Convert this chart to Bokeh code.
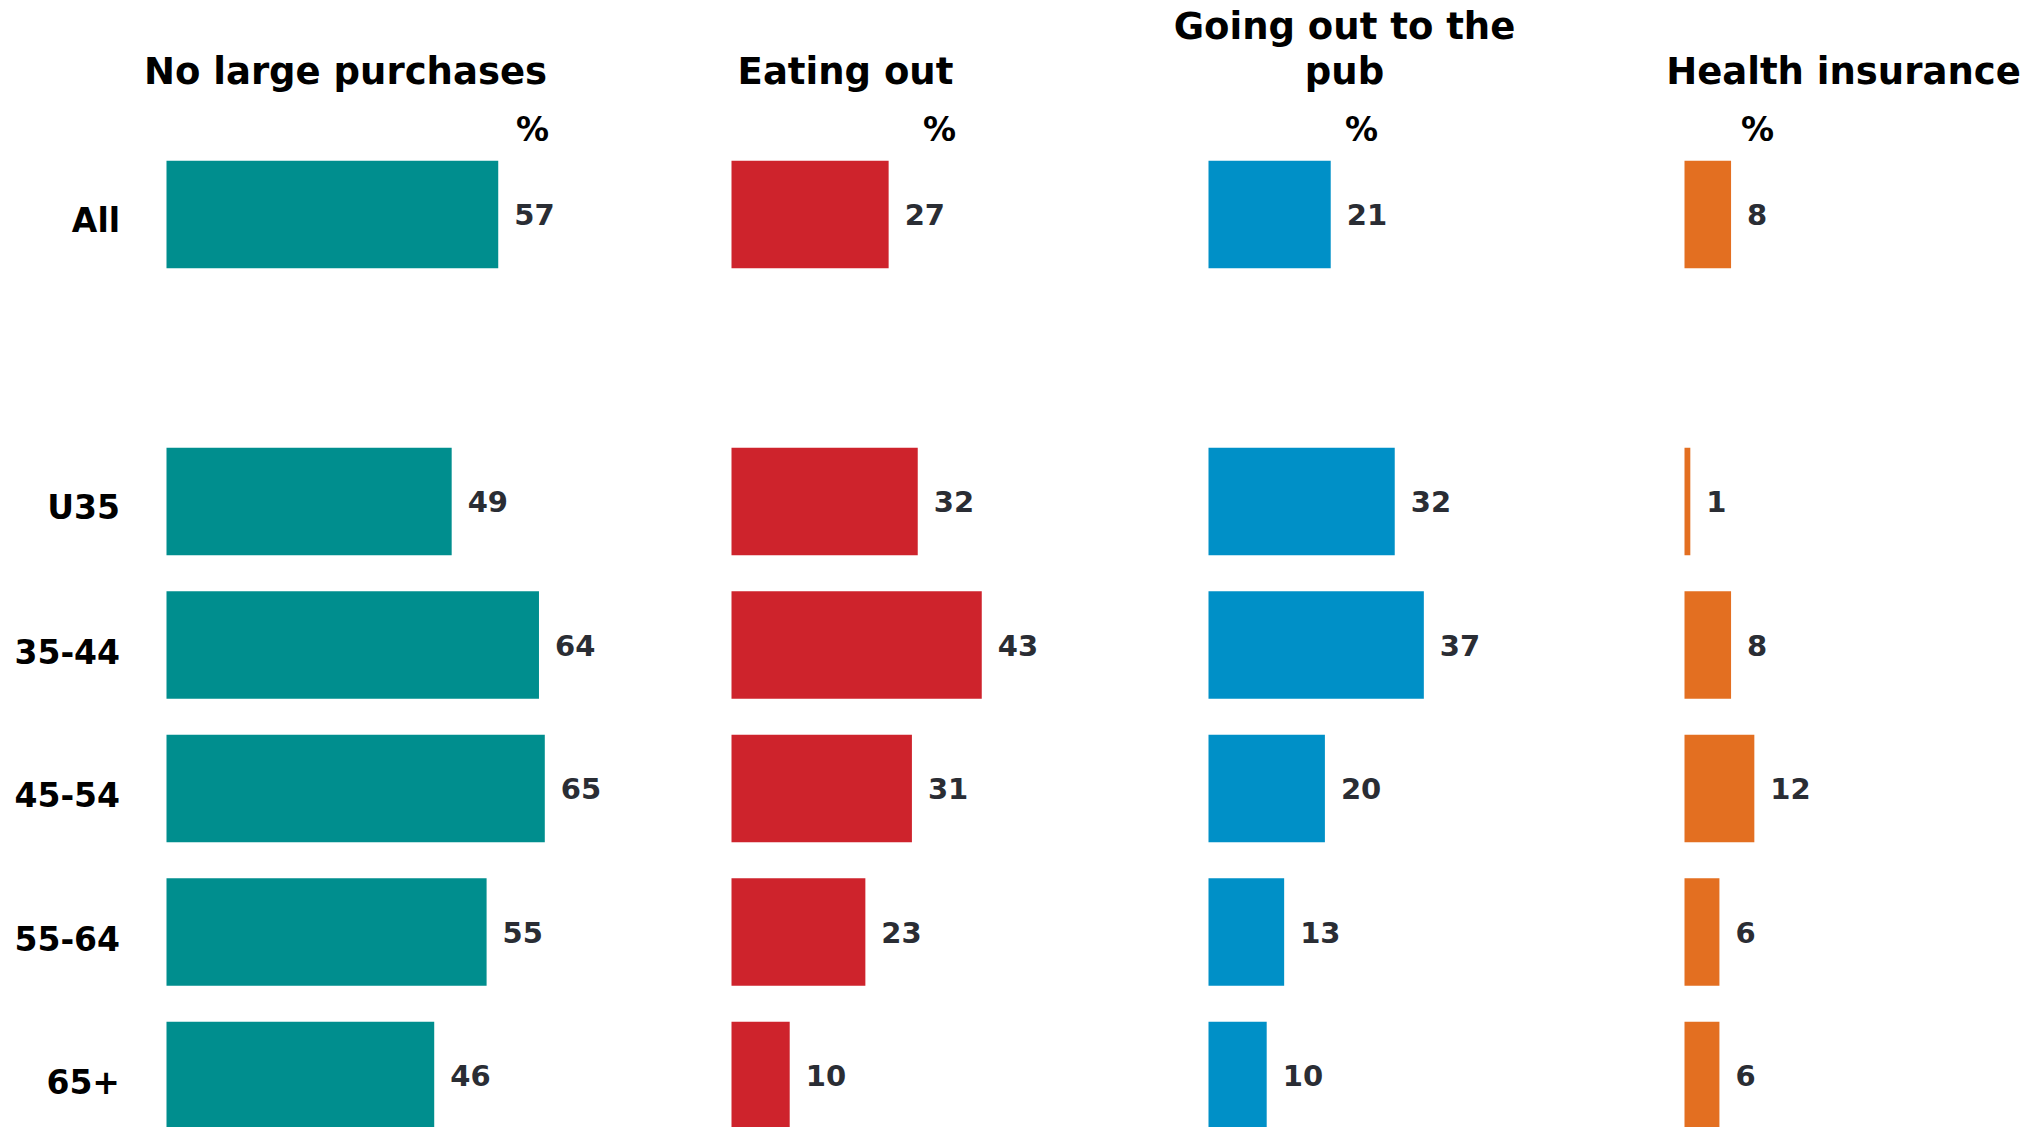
from bokeh.plotting import figure
from bokeh.layouts import row
from bokeh.models import Range1d, ColumnDataSource
from bokeh.core.properties import value
from bokeh.embed import file_html
from bokeh.resources import INLINE

# ---------------- data ----------------
rows = ["All", "", "U35", "35-44", "45-54", "55-64", "65+"]   # "" = spacer row
groups = ["All", "U35", "35-44", "45-54", "55-64", "65+"]
titles = ["No large purchases", "Eating out", "Going out to the\npub", "Health insurance"]
no_large_purchases = [57, 49, 64, 65, 55, 46]
eating_out = [27, 32, 43, 31, 23, 10]
going_out_to_pub = [21, 32, 37, 20, 13, 10]
health_insurance = [8, 1, 8, 12, 6, 6]
series = [no_large_purchases, eating_out, going_out_to_pub, health_insurance]
colors = ["#008E8E", "#CE232C", "#0090C7", "#E36F21"]

# ---------------- layout (page pixels, origin = page top-left) ----------------
FONT = value("DejaVu Sans")
S = 5.82                      # pixels per percentage point
ROW_PITCH = 143.5
FIRST_ROW_Y = 214.0
TOP = 0
HEIGHT = 1127
FIG_EDGES = [0, 680, 1120, 1600, 2030]
BAR_LEFT = [166, 731, 1208, 1684]
TITLE_CX = [345, 845, 1344, 1843]
TITLE_BASE = 71
TITLE_LINE = 45
PCT_CX = [532, 939, 1361, 1757]
PCT_BASE = 129


def py(v):
    return (v - FIRST_ROW_Y) / ROW_PITCH


y_top = py(TOP)
y_bottom = y_top + HEIGHT / ROW_PITCH
ys = [rows.index(g) for g in groups]

figs = []
for k in range(4):
    left_px, right_px = FIG_EDGES[k], FIG_EDGES[k + 1]
    w = right_px - left_px
    x0 = (left_px - BAR_LEFT[k]) / S
    x1 = (right_px - BAR_LEFT[k]) / S
    p = figure(width=w, height=HEIGHT, output_backend="svg", toolbar_location=None,
               x_range=Range1d(x0, x1), y_range=Range1d(y_bottom, y_top),
               x_axis_location=None, y_axis_location=None,
               min_border=0, outline_line_color=None, background_fill_color="white",
               border_fill_color="white")
    p.grid.visible = False

    vals = series[k]
    src = ColumnDataSource(dict(y=ys, v=vals, lab=[str(v) for v in vals]))
    p.hbar(y="y", left=0, right="v", height=0.75, source=src,
           fill_color=colors[k], line_color=None)
    p.text(x="v", y="y", text="lab", source=src, x_offset=16,
           text_align="left", text_baseline="middle",
           text_font=FONT, text_font_style="bold", text_font_size="29px",
           text_color="#2A2D34")

    # title (possibly multi-line)
    lines = titles[k].split("\n")
    n = len(lines)
    tx = (TITLE_CX[k] - BAR_LEFT[k]) / S
    p.text(x=[tx] * n,
           y=[py(TITLE_BASE - (n - 1 - i) * TITLE_LINE) for i in range(n)],
           text=lines, text_align="center", text_baseline="alphabetic",
           text_font=FONT, text_font_style="bold", text_font_size="37px",
           text_color="black")

    # % marker
    p.text(x=[(PCT_CX[k] - BAR_LEFT[k]) / S], y=[py(PCT_BASE)], text=["%"],
           text_align="center", text_baseline="alphabetic",
           text_font=FONT, text_font_style="bold", text_font_size="33px",
           text_color="black")

    if k == 0:
        p.text(x=[0] * len(groups), y=ys, text=groups, x_offset=-46.5, y_offset=6,
               text_align="right", text_baseline="middle",
               text_font=FONT, text_font_style="bold", text_font_size="33px",
               text_color="black")
    figs.append(p)

layout = row(*figs)
open("out.html", "w").write(file_html(layout, INLINE))
